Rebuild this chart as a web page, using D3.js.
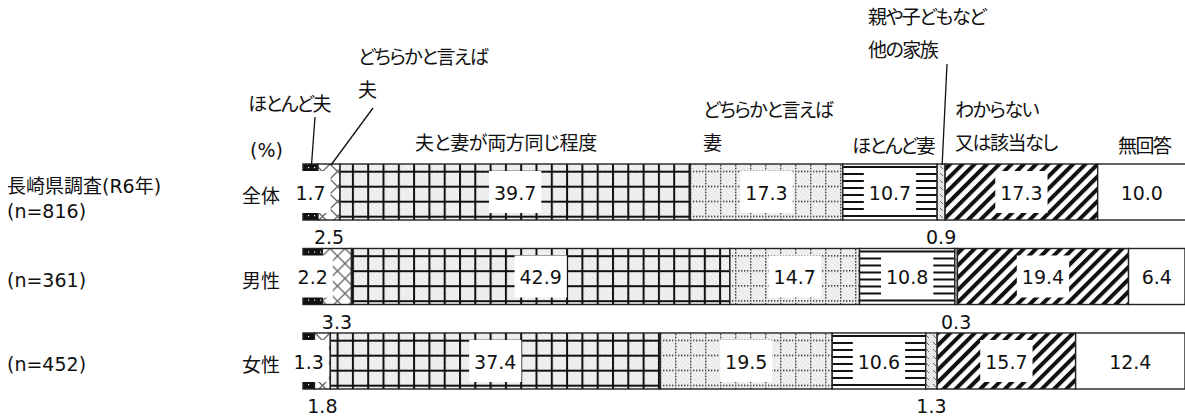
<!DOCTYPE html>
<html>
<head>
<meta charset="utf-8">
<script src="https://cdn.jsdelivr.net/npm/d3@7"></script>
<style>
  html, body { margin: 0; padding: 0; background: #fff; }
  svg { display: block; }
  text { font-family: "DejaVu Sans", "Noto Sans CJK JP", sans-serif; font-size: 19px; fill: #111; font-feature-settings: "palt"; }
  text.hdr { letter-spacing: -1.5px; }
  text.hdr.wide { letter-spacing: -0.3px; }
</style>
</head>
<body>
<svg id="chart" width="1185" height="419"></svg>
<script>
// Household role shares (%), Nagasaki prefecture survey (R6)
const surveyTitle = "長崎県調査(R6年)";
const groups = ["全体", "男性", "女性"];
const sampleSizes = ["(n=816)", "(n=361)", "(n=452)"];
const categoryLines = [
  ["ほとんど夫"],
  ["どちらかと言えば", "夫"],
  ["夫と妻が両方同じ程度"],
  ["どちらかと言えば", "妻"],
  ["ほとんど妻"],
  ["親や子どもなど", "他の家族"],
  ["わからない", "又は該当なし"],
  ["無回答"]
];
const totalValues  = [1.7, 2.5, 39.7, 17.3, 10.7, 0.9, 17.3, 10.0];
const maleValues   = [2.2, 3.3, 42.9, 14.7, 10.8, 0.3, 19.4, 6.4];
const femaleValues = [1.3, 1.8, 37.4, 19.5, 10.6, 1.3, 15.7, 12.4];
const unitLabel = "(%)";

const seriesValues = [totalValues, maleValues, femaleValues];
const categories = categoryLines.map(l => l.join(""));

// layout
const W = 1185, H = 419;
const svg = d3.select("#chart");
const x = d3.scaleLinear().domain([0, 100]).range([303, 1185]);
const y = d3.scaleBand().domain(groups).range([164, 389]).paddingInner(0.337).paddingOuter(0);
const bh = y.bandwidth();
const fmt = d3.format(".1f");

// label placement: segments 1 and 5 are labelled under the bar
const belowLabel = new Set([1, 5]);

// ---------- fill patterns ----------
const defs = svg.append("defs");
function pat(id, w, h, attrs) {
  const p = defs.append("pattern").attr("id", id).attr("patternUnits", "userSpaceOnUse")
    .attr("width", w).attr("height", h);
  if (attrs) Object.entries(attrs).forEach(([k, v]) => p.attr(k, v));
  return p;
}
// mostly husband: black with white specks
{
  const p = pat("p0", 6, 6);
  p.append("rect").attr("width", 6).attr("height", 6).attr("fill", "#111");
  p.append("rect").attr("x", 2).attr("y", 3).attr("width", 1.2).attr("height", 1.2).attr("fill", "#fff");
}
// rather husband: diagonal crosshatch
{
  const p = pat("p1", 15, 15);
  p.append("rect").attr("width", 15).attr("height", 15).attr("fill", "#fff");
  p.append("path").attr("d", "M0,0L15,15M15,0L0,15").attr("stroke", "#666").attr("stroke-width", 1.3);
}
// light gray textured base used in two patterns
function grayBase(p, w, h) {
  p.append("rect").attr("width", w).attr("height", h).attr("fill", "#f1f1f1");
  for (let i = -h; i < w; i += 5) {
    p.append("line").attr("x1", i).attr("y1", 0).attr("x2", i + h).attr("y2", h)
      .attr("stroke", "#dedede").attr("stroke-width", 0.8);
  }
}
// both equally: heavy grid over gray
{
  const p = pat("p2", 15.3, 15, { y: 6.7 });
  grayBase(p, 15.3, 15);
  p.append("rect").attr("x", 0).attr("y", 0).attr("width", 2).attr("height", 15).attr("fill", "#111");
  p.append("rect").attr("x", 0).attr("y", 0).attr("width", 15.3).attr("height", 2).attr("fill", "#111");
}
// rather wife: dotted grid over gray
{
  const p = pat("p3", 15, 15, { y: 6.7 });
  grayBase(p, 15, 15);
  for (let i = 0; i < 15; i += 3) {
    p.append("rect").attr("x", i).attr("y", 0).attr("width", 1.4).attr("height", 1.4).attr("fill", "#222");
    if (i > 0) p.append("rect").attr("x", 0).attr("y", i).attr("width", 1.4).attr("height", 1.4).attr("fill", "#222");
  }
}
// mostly wife: horizontal rules
{
  const p = pat("p4", 10, 7, { y: 2 });
  p.append("rect").attr("width", 10).attr("height", 7).attr("fill", "#fff");
  p.append("rect").attr("y", 0).attr("width", 10).attr("height", 2).attr("fill", "#111");
}
// other family: gray with small dashes
{
  const p = pat("p5", 7, 7);
  p.append("rect").attr("width", 7).attr("height", 7).attr("fill", "#e8e8e8");
  p.append("path").attr("d", "M2,2L5,5").attr("stroke", "#666").attr("stroke-width", 1);
}
// don't know: bold diagonal stripes
{
  const p = pat("p6", 8.7, 8.7, { patternTransform: "rotate(45)" });
  p.append("rect").attr("width", 8.7).attr("height", 8.7).attr("fill", "#fff");
  p.append("rect").attr("width", 4).attr("height", 8.7).attr("fill", "#111");
}
const fills = ["url(#p0)", "url(#p1)", "url(#p2)", "url(#p3)", "url(#p4)", "url(#p5)", "url(#p6)", "#fff"];

// ---------- stacked rows ----------
const rows = groups.map((g, gi) => {
  let acc = 0;
  const segs = seriesValues[gi].map((v, ci) => {
    const s = { group: g, ci, value: v, x0: acc, x1: acc + v };
    acc += v;
    return s;
  });
  return { group: g, gi, segs };
});

const rowG = svg.selectAll("g.row").data(rows).join("g").attr("class", "row")
  .attr("transform", d => `translate(0,${y(d.group)})`);

rowG.selectAll("rect.seg").data(d => d.segs).join("rect").attr("class", "seg")
  .attr("x", d => x(d.x0))
  .attr("width", d => Math.max(0, Math.min(x(d.x1), W + 2) - x(d.x0)))
  .attr("y", 0).attr("height", bh)
  .attr("fill", d => fills[d.ci])
  .attr("stroke", "#222").attr("stroke-width", 1.4);

// value labels inside bars, on white boxes
rowG.each(function (row) {
  const g = d3.select(this);
  row.segs.forEach(s => {
    const cx = x((s.x0 + s.x1) / 2);
    if (belowLabel.has(s.ci)) {
      g.append("text").attr("x", cx).attr("y", bh + 17)
        .attr("text-anchor", "middle").attr("dominant-baseline", "central")
        .text(fmt(s.value));
    } else {
      const box = g.append("rect").attr("fill", "#fff");
      const t = g.append("text").attr("x", cx).attr("y", bh / 2 + 1)
        .attr("text-anchor", "middle").attr("dominant-baseline", "central")
        .text(fmt(s.value));
      const tw = t.node().getComputedTextLength();
      box.attr("x", cx - tw / 2 - 5).attr("width", tw + 10).attr("y", 7).attr("height", bh - 14);
    }
  });
});

// group labels
svg.selectAll("text.grp").data(groups).join("text").attr("class", "grp")
  .attr("x", 242).attr("y", d => y(d) + bh / 2 + 4)
  .attr("dominant-baseline", "central").text(d => d);

svg.selectAll("text.n").data(sampleSizes).join("text").attr("class", "n")
  .attr("x", 7).attr("y", (d, i) => i === 0 ? y(groups[0]) + bh / 2 + 19 : y(groups[i]) + bh / 2 + 3)
  .attr("dominant-baseline", "central").text(d => d);

svg.append("text").attr("x", 7).attr("y", y(groups[0]) + bh / 2 - 6)
  .attr("dominant-baseline", "central").text(surveyTitle);

svg.append("text").attr("x", 250).attr("y", 150).attr("dominant-baseline", "central").text(unitLabel);

// category headers
const headerPos = [
  { x: 248, y: 104 }, { x: 358, y: 57 }, { x: 415, y: 143 }, { x: 703, y: 110 },
  { x: 852, y: 146 }, { x: 868, y: 17 }, { x: 955, y: 110 }, { x: 1118, y: 146 }
];
const lineGap = 33;
categoryLines.forEach((lines, ci) => {
  lines.forEach((ln, li) => {
    svg.append("text").attr("class", ci === 2 ? "hdr wide" : "hdr")
      .attr("x", headerPos[ci].x).attr("y", headerPos[ci].y + li * lineGap)
      .attr("dominant-baseline", "central").text(ln);
  });
});

// leader lines from headers to the narrow segments of the first row
const leaderStart = { 0: [315, 117], 1: [373, 108], 5: [947, 64] };
const firstRowTop = y(groups[0]);
Object.entries(leaderStart).forEach(([ci, p]) => {
  const s = rows[0].segs[+ci];
  svg.append("line").attr("x1", p[0]).attr("y1", p[1])
    .attr("x2", x((s.x0 + s.x1) / 2) + (+ci === 1 ? 2 : 1)).attr("y2", firstRowTop + 1)
    .attr("stroke", "#111").attr("stroke-width", 1.3);
});
</script>
</body>
</html>
